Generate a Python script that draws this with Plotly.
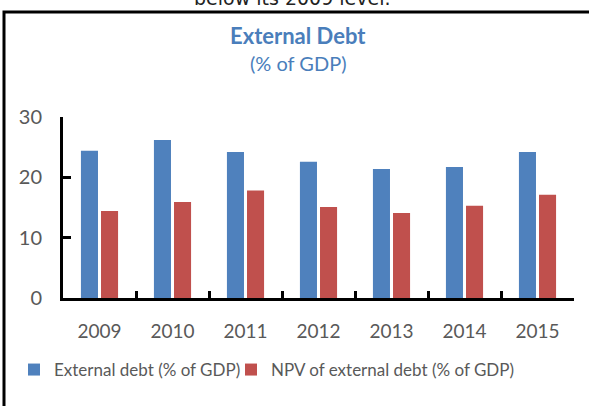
import plotly.graph_objects as go

W, H = 589, 406

years = ["2009", "2010", "2011", "2012", "2013", "2014", "2015"]
external_debt = [24.4, 26.2, 24.2, 22.6, 21.4, 21.7, 24.2]
npv_external_debt = [14.4, 15.9, 17.8, 15.1, 14.1, 15.3, 17.1]
series_names = ["External debt (% of GDP)", "NPV of external debt (% of GDP)"]
y_ticks = [0, 10, 20, 30]

BLUE = "#4F81BD"
RED = "#C0504D"
GRAY = "#595959"
TITLE_BLUE = "#4A7EBB"
FONT = "Lato"

# plot area in pixels
x0, x1 = 63, 574
y_top, y_bot = 117, 298

fig = go.Figure()
fig.add_trace(go.Bar(x=years, y=external_debt, name=series_names[0],
                     legendwidth=172,
                     marker=dict(color=BLUE, line=dict(width=0))))
fig.add_trace(go.Bar(x=years, y=npv_external_debt, name=series_names[1],
                     legendwidth=260,
                     marker=dict(color=RED, line=dict(width=0))))

fig.update_layout(
    width=W, height=H,
    margin=dict(l=0, r=0, t=0, b=0),
    paper_bgcolor="white", plot_bgcolor="white",
    barmode="group", bargap=0.45, bargroupgap=0.15,
    font=dict(family=FONT, color=GRAY, size=18),
    showlegend=True,
    legend=dict(orientation="h", x=14 / W, xanchor="left",
                y=1 - 370 / H, yanchor="middle",
                font=dict(family=FONT, size=17, color=GRAY),
                itemwidth=30, tracegroupgap=0, bgcolor="rgba(0,0,0,0)"),
    xaxis=dict(domain=[x0 / W, x1 / W], type="category",
               showline=True, linecolor="black", linewidth=3,
               ticks="inside", tickson="boundaries", ticklen=7,
               tickwidth=3, tickcolor="black",
               tickfont=dict(family=FONT, size=19, color=GRAY),
               ticklabelstandoff=14, showgrid=False, zeroline=False,
               automargin=False, fixedrange=True),
    yaxis=dict(domain=[1 - y_bot / H, 1 - y_top / H], range=[0, 30],
               tickvals=y_ticks, showline=True, linecolor="black",
               linewidth=3, ticks="inside", ticklen=8, tickwidth=3,
               tickcolor="black",
               tickfont=dict(family=FONT, size=20, color=GRAY),
               ticklabelstandoff=14, showgrid=False, zeroline=False,
               automargin=False, fixedrange=True),
    shapes=[dict(type="rect", xref="paper", yref="paper",
                 x0=4 / W, x1=1.05, y0=-0.05, y1=1 - 12 / H,
                 line=dict(color="black", width=3), layer="below")],
    annotations=[
        dict(text="below its 2009 level.", xref="paper", yref="paper",
             x=292 / W, y=1 + 2 / H, xanchor="center", yanchor="middle",
             showarrow=False, font=dict(family="DejaVu Sans", size=19, color="#222222")),
        dict(text="<b>External Debt</b>", xref="paper", yref="paper",
             x=298 / W, y=1 - 35 / H, xanchor="center", yanchor="middle",
             showarrow=False, font=dict(family=FONT, size=22, color=TITLE_BLUE)),
        dict(text="(% of GDP)", xref="paper", yref="paper",
             x=298 / W, y=1 - 63 / H, xanchor="center", yanchor="middle",
             showarrow=False, font=dict(family=FONT, size=20, color=TITLE_BLUE)),
    ],
)

fig.write_html("out.html",
               config={"displayModeBar": False},
               post_script="document.body.style.margin='0';document.body.style.padding='0';")
